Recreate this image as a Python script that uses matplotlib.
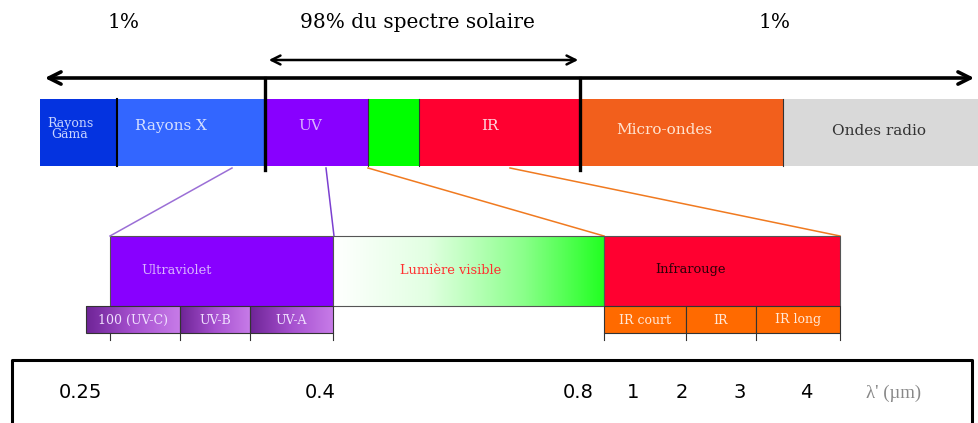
import numpy as np
import matplotlib.pyplot as plt
from matplotlib.colors import LinearSegmentedColormap

# main spectrum band (pixel-like units across the picture)
band_names = ["Rayons\nGama", "Rayons X", "UV", "", "IR", "Micro-ondes", "Ondes radio"]
band_edges = [40, 117, 265, 368, 419, 580, 783, 979]
band_colors = ["#0433e0", "#3366ff", "#8800ff", "#00ff00", "#ff0030", "#f25f1c", "#d9d9d9"]
band_text_colors = ["#c8d4ff", "#d6e0ff", "#d9b3ff", "#000000", "#ffd6de", "#ffe3d0", "#333333"]
band_text_x = [70, 171, 310, 0, 490, 664, 879]
band_text_y = [129, 126, 126, 0, 126, 130, 131]

# zoomed band
zoom_names = ["Ultraviolet", "Lumière visible", "Infrarouge"]
zoom_edges = [110, 333, 604, 840]
zoom_text_x = [177, 451, 691]
zoom_text_colors = ["#d9b3ff", "#ff3030", "#2a0008"]

# sub bands
uv_names = ["100 (UV-C)", "UV-B", "UV-A"]
uv_edges = [86, 180, 250, 333]
ir_names = ["IR court", "IR", "IR long"]
ir_edges = [604, 686, 756, 840]
tick_pos = [110, 180, 250, 333, 604, 686, 756, 840]

# wavelength scale
wl_labels = ["0.25", "0.4", "0.8", "1", "2", "3", "4"]
wl_pos = [80, 320, 578, 633, 682, 740, 806]

# connectors from main band to zoomed band
conn_top = [232, 326, 368, 510]
conn_bottom = [110, 334, 604, 840]
conn_colors = ["#9b6fd6", "#7b3fd0", "#f07a20", "#f07a20"]

serif = "DejaVu Serif"

fig = plt.figure(figsize=(9.79, 4.23), dpi=100)
ax = fig.add_axes([0, 0, 1, 1])
ax.set_xlim(0, 979)
ax.set_ylim(423, 0)
ax.axis("off")

# top band
lefts = np.array(band_edges[:-1])
widths = np.diff(band_edges)
ax.barh(132.5, widths, left=lefts, height=67, color=band_colors, edgecolor="none")
for name, x, y, c in zip(band_names, band_text_x, band_text_y, band_text_colors):
    if not name:
        continue
    fs = 9 if "\n" in name else 11
    ax.text(x, y, name, color=c, fontsize=fs, family=serif,
            ha="center", va="center", linespacing=0.85)
ax.plot([117, 117], [99, 166], color="black", lw=1.5)
ax.plot([368, 368], [99, 166], color="#333333", lw=0.8)
ax.plot([419, 419], [99, 166], color="#333333", lw=0.8)
ax.plot([783, 783], [99, 166], color="#333333", lw=0.8)
for x in [265, 580]:
    ax.plot([x, x], [78, 170], color="black", lw=2.4)

# arrows
ax.annotate("", xy=(42, 78), xytext=(977, 78),
            arrowprops=dict(arrowstyle="<->", lw=2.6, color="black", mutation_scale=22))
ax.annotate("", xy=(266, 60), xytext=(581, 60),
            arrowprops=dict(arrowstyle="<->", lw=1.8, color="black", mutation_scale=16))
ax.text(124, 23, "1%", fontsize=14.5, family=serif, ha="center", va="center")
ax.text(417, 23, "98% du spectre solaire", fontsize=14.5, family=serif,
        ha="center", va="center")
ax.text(775, 23, "1%", fontsize=14.5, family=serif, ha="center", va="center")

# connectors
for xt, xb, c in zip(conn_top, conn_bottom, conn_colors):
    ax.plot([xt, xb], [168, 236], color=c, lw=1.1)

# zoomed band
ax.barh(271, zoom_edges[1] - zoom_edges[0], left=zoom_edges[0], height=70,
        color="#8800ff", edgecolor="#555555", lw=0.8)
grad = np.linspace(0, 1, 256).reshape(1, -1)
cmap_vis = LinearSegmentedColormap.from_list(
    "vis", [(0, "#ffffff"), (0.35, "#e2ffe2"), (0.7, "#8cff8c"), (1, "#22ff22")])
ax.imshow(grad, extent=[zoom_edges[1], zoom_edges[2], 306, 236], cmap=cmap_vis,
          aspect="auto", zorder=1)
ax.barh(271, zoom_edges[2] - zoom_edges[1], left=zoom_edges[1], height=70,
        color="none", edgecolor="#555555", lw=0.8, zorder=2)
ax.barh(271, zoom_edges[3] - zoom_edges[2], left=zoom_edges[2], height=70,
        color="#ff0030", edgecolor="#555555", lw=0.8, zorder=2)
for name, x, c in zip(zoom_names, zoom_text_x, zoom_text_colors):
    ax.text(x, 270, name, color=c, fontsize=9.4, family=serif, ha="center", va="center", zorder=3)

# UV sub bands with gradient
cmap_uv = LinearSegmentedColormap.from_list("uv", ["#6e2496", "#a650cf", "#c77be8"])
for i, name in enumerate(uv_names):
    l, r = uv_edges[i], uv_edges[i + 1]
    ax.imshow(grad, extent=[l, r, 333, 306], cmap=cmap_uv, aspect="auto", zorder=1)
    ax.barh(319.5, r - l, left=l, height=27, color="none", edgecolor="#333333", lw=0.8, zorder=2)
    ax.text((l + r) / 2, 320, name, color="#f0e0ff", fontsize=9, family=serif,
            ha="center", va="center", zorder=3)

ir_l = np.array(ir_edges[:-1])
ax.barh(319.5, np.diff(ir_edges), left=ir_l, height=27, color="#ff6a00",
        edgecolor="#333333", lw=0.8, zorder=2)
for i, name in enumerate(ir_names):
    ax.text((ir_edges[i] + ir_edges[i + 1]) / 2, 320, name, color="#ffe8d8", fontsize=9,
            family=serif, ha="center", va="center", zorder=3)

for x in tick_pos:
    ax.plot([x, x], [333, 340], color="#333333", lw=0.8)

# wavelength box
ax.plot([12, 12, 972, 972], [430, 360, 360, 430], color="black", lw=2.2)
for lab, x in zip(wl_labels, wl_pos):
    ax.text(x, 393, lab, fontsize=14, family="Liberation Sans Narrow", ha="center", va="center")
ax.text(894, 393, "λ' (µm)", fontsize=13.5, family="Liberation Serif", color="#888888",
        ha="center", va="center")

fig.savefig("out.png", dpi=100)
